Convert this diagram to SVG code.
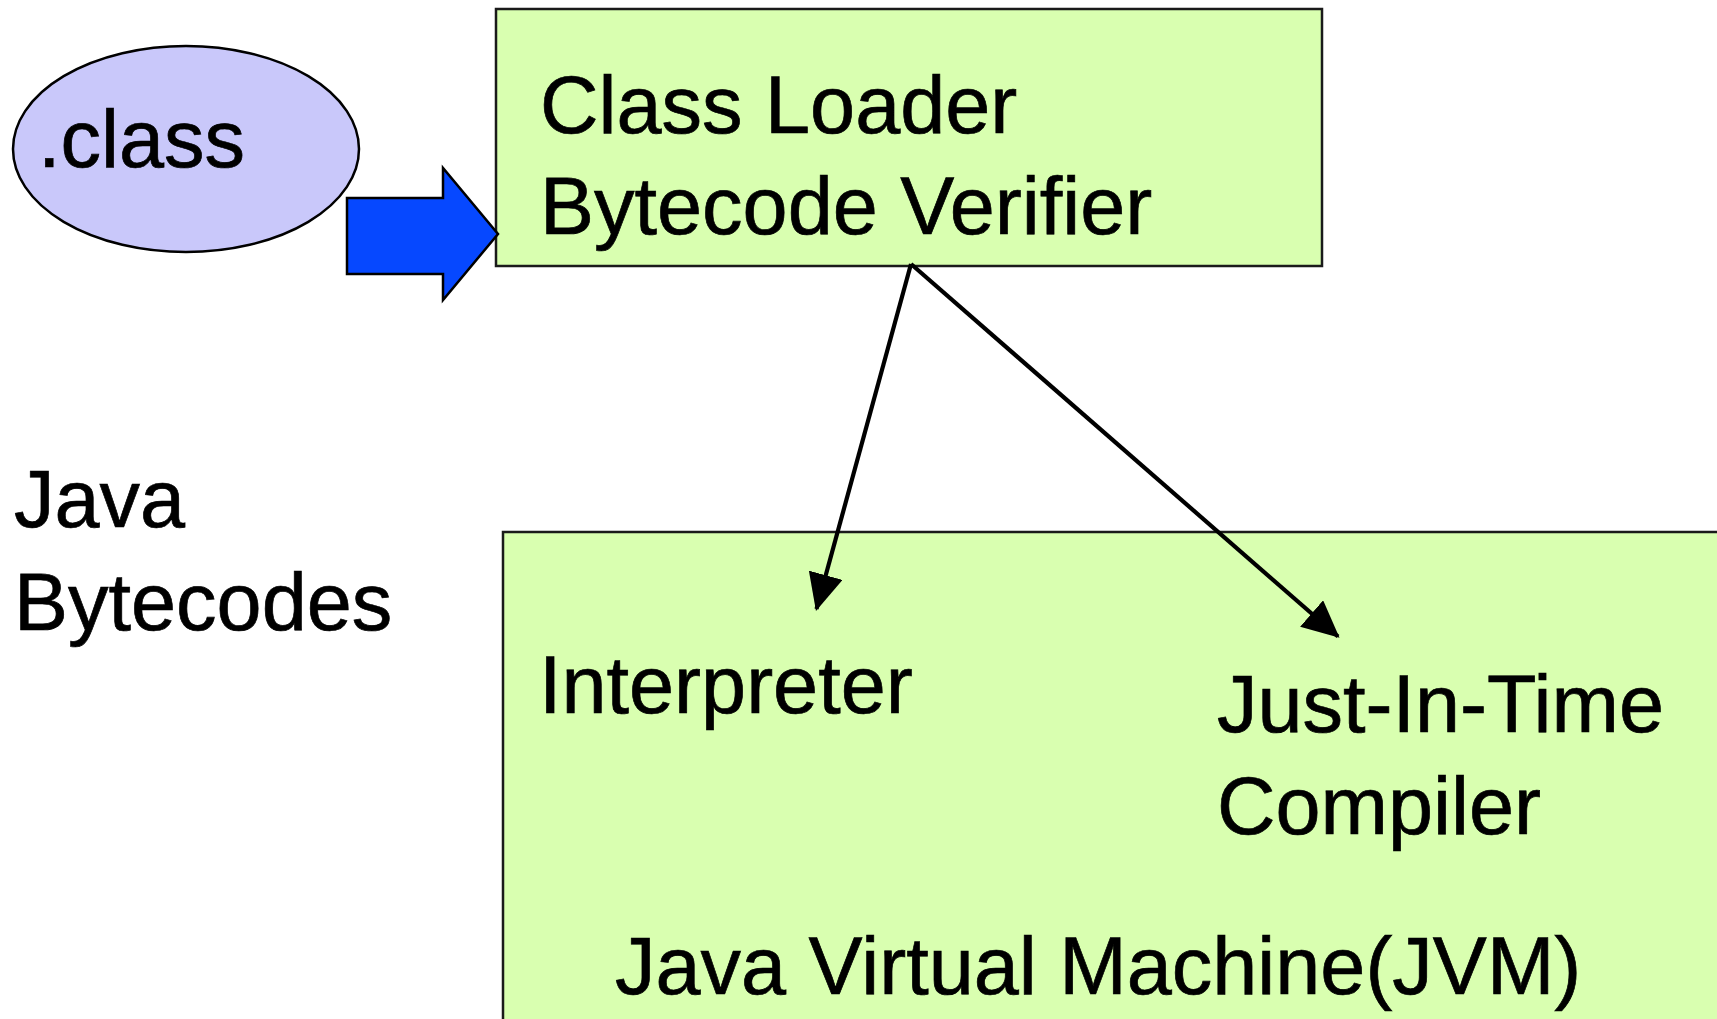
<svg xmlns="http://www.w3.org/2000/svg" width="1717" height="1019" viewBox="0 0 1717 1019">
<style>
.t{font-family:"Liberation Sans",Arial,sans-serif;font-size:81px;fill:#000;stroke:#000;stroke-width:0.7}
.box{fill:#D9FFB0;stroke:#1a1a1a;stroke-width:2.5}
.conn{stroke:#000;stroke-width:4.2;fill:none;marker-end:url(#ah)}
</style>
<defs>
<marker id="ah" markerUnits="userSpaceOnUse" markerWidth="38" markerHeight="36" refX="35" refY="17.5" orient="auto" viewBox="0 0 38 36">
<path d="M0,0 L37,17.5 L0,35 z" fill="#000"/>
</marker>
</defs>
<rect width="1717" height="1019" fill="#fff"/>
<g id="jvm">
<rect class="box" x="503" y="532" width="1230" height="500"/>
<text class="t" x="539" y="713">Interpreter</text>
<text class="t" x="1217" y="732">Just-In-Time</text>
<text class="t" x="1217" y="834">Compiler</text>
<text class="t" x="615" y="994">Java Virtual Machine(JVM)</text>
</g>
<g id="class-file">
<ellipse cx="186" cy="149" rx="173" ry="103" fill="#C9C8FA" stroke="#000" stroke-width="2.5"/>
<text class="t" x="38" y="167">.class</text>
</g>
<g id="loader">
<rect class="box" x="496" y="9" width="826" height="257"/>
<text class="t" x="540" y="133">Class Loader</text>
<text class="t" x="540" y="234">Bytecode Verifier</text>
</g>
<g id="bytecodes-label">
<text class="t" x="14" y="527">Java</text>
<text class="t" x="14" y="630">Bytecodes</text>
</g>
<g id="connectors">
<polygon points="347,198 443,198 443,168 498,234 443,300 443,274 347,274" fill="#0648FF" stroke="#000" stroke-width="2.5" stroke-linejoin="miter"/>
<line class="conn" x1="911" y1="264" x2="816.5" y2="609"/>
<line class="conn" x1="911" y1="264" x2="1338" y2="636.5"/>
</g>
</svg>
